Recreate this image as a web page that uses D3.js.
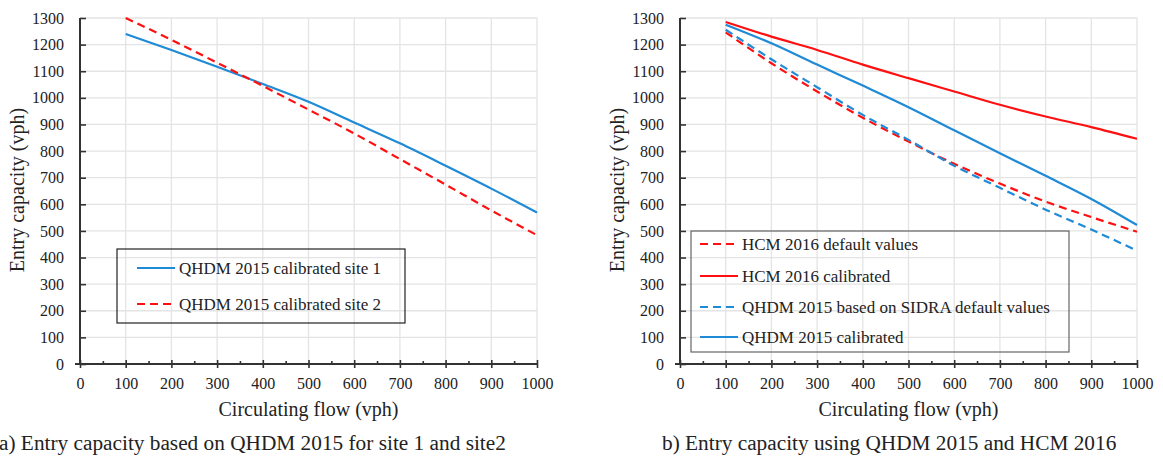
<!DOCTYPE html>
<html>
<head>
<meta charset="utf-8">
<script src="https://cdn.jsdelivr.net/npm/d3@7"></script>
<style>
  body { margin: 0; background: #fff; }
  text { font-family: 'Liberation Serif', 'Times New Roman', serif; fill: #222; }
</style>
</head>
<body>
<div id="chart"></div>
<script>
const flow = [100, 200, 300, 400, 500, 600, 700, 800, 900, 1000];

// panel a
const site1 = [1240, 1180, 1117, 1052, 985, 907, 829, 745, 659, 569];
const site2 = [1300, 1218, 1132, 1045, 956, 866, 770, 674, 577, 484];

// panel b
const hcmDefault = [1246, 1130, 1024, 925, 836, 752, 678, 610, 552, 497];
const hcmCalibrated = [1285, 1230, 1180, 1125, 1074, 1024, 974, 930, 890, 846];
const qhdmSidra = [1256, 1145, 1040, 936, 842, 745, 662, 580, 505, 426];
const qhdmCalibrated = [1275, 1205, 1125, 1046, 965, 878, 792, 707, 620, 522];

const xTickValues = [0, 100, 200, 300, 400, 500, 600, 700, 800, 900, 1000];
const xMinorValues = [50, 150, 250, 350, 450, 550, 650, 750, 850, 950];
const yTickValues = [0, 100, 200, 300, 400, 500, 600, 700, 800, 900, 1000, 1100, 1200, 1300];

const blue = '#1f8ad6';
const red = '#ff1010';
const serif = "'Liberation Serif', 'Times New Roman', serif";

const svg = d3.select('#chart')
    .append('svg')
    .attr('width', 1163)
    .attr('height', 465);

function drawPanel(left, right, series, legend, caption) {
    const x = d3.scaleLinear().domain([0, 1000]).range([left, right]);
    const y = d3.scaleLinear().domain([0, 1300]).range([364, 18]);

    const g = svg.append('g');

    // grid
    g.append('g').selectAll('line')
        .data(xTickValues.slice(1))
        .join('line')
        .attr('x1', d => x(d)).attr('x2', d => x(d))
        .attr('y1', y(0)).attr('y2', y(1300))
        .attr('stroke', '#e4e4e4').attr('stroke-width', 1.3);
    g.append('g').selectAll('line')
        .data(yTickValues.slice(1))
        .join('line')
        .attr('x1', x(0)).attr('x2', x(1000))
        .attr('y1', d => y(d)).attr('y2', d => y(d))
        .attr('stroke', '#e4e4e4').attr('stroke-width', 1.3);

    // lines
    const line = d3.line()
        .x((d, i) => x(flow[i]))
        .y(d => y(d))
        .curve(d3.curveMonotoneX);

    series.forEach(s => {
        g.append('path')
            .datum(s.values)
            .attr('fill', 'none')
            .attr('stroke', s.color)
            .attr('stroke-width', 2.2)
            .attr('stroke-dasharray', s.dashed ? '8,5' : null)
            .attr('d', line);
    });

    // x axis
    const xAxis = g.append('g')
        .attr('transform', 'translate(0,' + y(0) + ')')
        .call(d3.axisBottom(x).tickValues(xTickValues).tickFormat(d3.format('d')).tickSize(4).tickPadding(10));
    xAxis.select('.domain').attr('d', 'M' + (x(0) - 5) + ',0H' + x(1000));
    xAxis.selectAll('.tick line').attr('y1', -4);
    g.append('g')
        .attr('transform', 'translate(0,' + y(0) + ')')
        .call(d3.axisBottom(x).tickValues(xMinorValues).tickSize(-3).tickFormat(''))
        .select('.domain').remove();

    // y axis
    const yAxis = g.append('g')
        .attr('transform', 'translate(' + x(0) + ',0)')
        .call(d3.axisLeft(y).tickValues(yTickValues).tickFormat(d3.format('d')).tickSize(6).tickPadding(10));
    yAxis.select('.domain').attr('d', 'M0,' + y(1300) + 'V' + y(0));
    yAxis.selectAll('.tick line').attr('x2', 6);

    [xAxis, yAxis].forEach(a => {
        a.attr('font-family', serif);
        a.select('.domain').attr('stroke', '#333').attr('stroke-width', 2);
        a.selectAll('.tick text')
            .style('font-family', serif)
            .style('font-size', '16px')
            .attr('fill', '#222');
    });
    g.selectAll('.tick line').attr('stroke', '#333').attr('stroke-width', 1.6);

    // axis titles
    g.append('text')
        .attr('x', (x(0) + x(1000)) / 2)
        .attr('y', 416)
        .attr('text-anchor', 'middle')
        .style('font-size', '20px')
        .text('Circulating flow (vph)');
    g.append('text')
        .attr('transform', 'translate(' + (left - 56) + ',' + 190 + ') rotate(-90)')
        .attr('text-anchor', 'middle')
        .style('font-size', '20px')
        .text('Entry capacity (vph)');

    // legend
    g.append('rect')
        .attr('x', legend.x).attr('y', legend.y)
        .attr('width', legend.w).attr('height', legend.h)
        .attr('fill', 'none')
        .attr('stroke', legend.border)
        .attr('stroke-width', 1.2);
    series.forEach((s, i) => {
        const ly = legend.rows[i];
        g.append('line')
            .attr('x1', legend.x + legend.pad).attr('x2', legend.x + legend.pad + 38)
            .attr('y1', ly).attr('y2', ly)
            .attr('stroke', s.color).attr('stroke-width', 2.2)
            .attr('stroke-dasharray', s.dashed ? '8,5' : null);
        g.append('text')
            .attr('x', legend.x + legend.pad + 42)
            .attr('y', ly + 6)
            .style('font-size', '17px')
            .text(s.name);
    });

    // caption
    g.append('text')
        .attr('x', caption.x)
        .attr('y', 450)
        .style('font-size', '21.3px')
        .text(caption.text);
}

drawPanel(80, 537,
    [
        { name: 'QHDM 2015 calibrated site 1', values: site1, color: blue, dashed: false },
        { name: 'QHDM 2015 calibrated site 2', values: site2, color: red, dashed: true }
    ],
    { x: 117, y: 249, w: 288, h: 74, pad: 20, rows: [268, 304], border: '#222' },
    { x: -1, text: 'a) Entry capacity based on QHDM 2015 for site 1 and site2' });

drawPanel(680, 1137,
    [
        { name: 'HCM 2016 default values', values: hcmDefault, color: red, dashed: true },
        { name: 'HCM 2016 calibrated', values: hcmCalibrated, color: red, dashed: false },
        { name: 'QHDM 2015 based on SIDRA default values', values: qhdmSidra, color: blue, dashed: true },
        { name: 'QHDM 2015 calibrated', values: qhdmCalibrated, color: blue, dashed: false }
    ],
    { x: 691, y: 231, w: 378, h: 121, pad: 9, rows: [244, 276, 307, 337], border: '#666' },
    { x: 662, text: 'b) Entry capacity using QHDM 2015 and HCM 2016' });
</script>
</body>
</html>
